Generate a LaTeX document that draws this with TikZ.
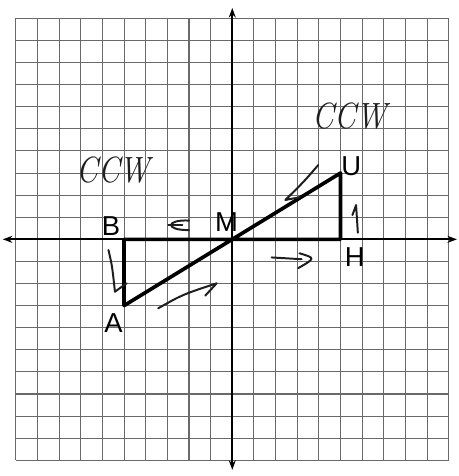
\documentclass[tikz,border=0pt]{standalone}
\usepackage{fontspec}
\setsansfont{Liberation Sans}
\usepackage{tikz}
\usetikzlibrary{arrows.meta}
\definecolor{gridgray}{HTML}{6A6A6A}
\definecolor{pen}{HTML}{1E1E1E}
\tikzset{
  gridln/.style={gridgray, line width=0.7pt},
  axis/.style={{Stealth[length=2.2mm,width=1.6mm]}-{Stealth[length=2.2mm,width=1.6mm]}, line width=1.3pt, black},
  seg/.style={line width=2.4pt, black, line cap=round, line join=round},
  lbl/.style={font=\sffamily\fontsize{18}{20}\selectfont, inner sep=0pt},
  hand/.style={pen, line width=1.3pt, line cap=round, line join=round},
  ccw/.style={font=\rmfamily\itshape\fontsize{24}{26}\selectfont, text=pen, inner sep=0pt, xscale=0.85},
}

\begin{document}
\begin{tikzpicture}[x=0.5cm, y=0.5104cm]
\useasboundingbox (-10.73,-10.71) rectangle (10.47,10.83);
% graph paper
\foreach \i in {-10,...,10} {
  \draw[gridln] (\i,-10) -- (\i,10);
  \draw[gridln] (-10,\i) -- (10,\i);
}
\coordinate (xl) at (-10.6,0); \coordinate (xr) at (10.38,0);
\coordinate (yb) at (0,-10.43); \coordinate (yt) at (0,10.47);
\draw[axis] (xl) -- (xr);
\draw[axis] (yb) -- (yt);
% points
\coordinate (A) at (-5,-3);
\coordinate (B) at (-5,0);
\coordinate (H) at (5,0);
\coordinate (U) at (5,3);
\coordinate (M) at (0,0);
\draw[seg] (A) -- (B) -- (H) -- (U) -- (M) -- (A);
\node[lbl] (lU) at (5.5,3.32) {U};
\node[lbl] (lB) at (-5.6,0.58) {B};
\node[lbl] (lH) at (5.66,-0.82) {H};
\node[lbl] (lA) at (-5.49,-3.81) {A};
\node[lbl] (lM) at (-0.26,0.76) {M};
% handwritten notes
\node[ccw] (ccwR) at (5.43,5.6) {CCW};
\node[ccw] (ccwL) at (-5.5,3.13) {CCW};
\draw[hand] (3.97,3.36) .. controls (3.3,2.6) .. (2.45,1.78) -- (3.1,1.9);
\draw[hand] (-2.0,0.85) .. controls (-3.1,0.9) and (-3.1,0.4) .. (-2.0,0.42);
\draw[hand] (-2.95,0.64) -- (-2.3,0.64);
\draw[hand] (1.82,-0.82) -- (3.2,-0.9);
\draw[hand] (3.1,-0.63) .. controls (3.85,-0.85) .. (3.05,-1.3);
\draw[hand] (5.8,0.3) -- (5.72,1.55) -- (5.55,1.1);
\draw[hand] (-5.72,-0.48) .. controls (-5.55,-1.2) .. (-5.42,-2.37) -- (-4.88,-1.99);
\draw[hand] (-3.42,-3.12) .. controls (-2.3,-2.5) .. (-0.72,-1.99) -- (-1.25,-2.55);
\end{tikzpicture}
\end{document}
